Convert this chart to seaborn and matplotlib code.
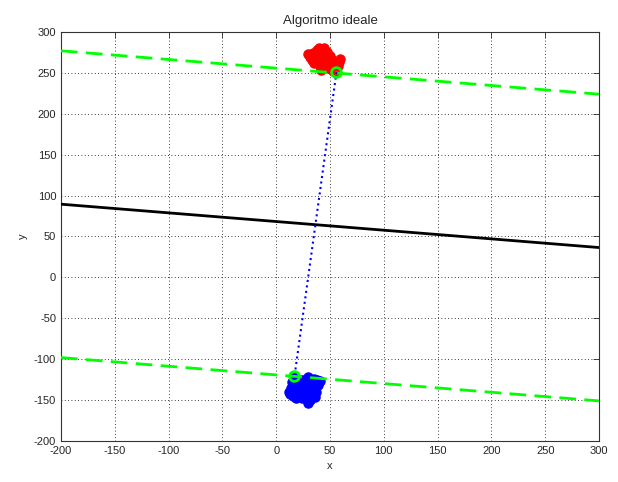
import matplotlib
matplotlib.use("Agg")
import matplotlib.pyplot as plt
import seaborn as sns
import pandas as pd

# --- data ---
red_x = [31, 34, 36, 38, 40, 42, 44, 46, 39, 41, 43, 45, 47, 49, 51, 35, 37, 33, 48, 50, 52, 54, 44, 46, 42, 38, 53, 56, 40, 36, 58, 59, 57, 30]
red_y = [270, 274, 268, 278, 281, 276, 272, 266, 262, 259, 263, 269, 275, 260, 264, 262, 273, 266, 256, 271, 266, 258, 280, 257, 254, 265, 252, 251, 277, 271, 263, 267, 259, 273]
blue_x = [12, 14, 16, 17, 19, 21, 23, 25, 27, 29, 31, 33, 35, 37, 39, 41, 15, 18, 22, 26, 28, 30, 34, 36, 20, 24, 32, 13, 38, 30]
blue_y = [-140, -135, -145, -121, -130, -138, -125, -132, -142, -128, -150, -136, -124, -140, -131, -127, -128, -147, -144, -126, -135, -153, -129, -146, -133, -148, -139, -143, -125, -122]
sv_x = [56, 17]
sv_y = [251, -121]
line_x = [-200, 300]
mid_y = [89.5, 36.5]
upper_y = [277, 224]
lower_y = [-98, -151]
x_ticks = list(range(-200, 301, 50))
y_ticks = list(range(-200, 301, 50))

sns.set_style("white")
plt.rcParams['font.family'] = ['Liberation Sans', 'DejaVu Sans']
plt.rcParams['axes.unicode_minus'] = False

fig = plt.figure(figsize=(6.18, 4.82), dpi=100)
ax = fig.add_axes([61/618, 1-441/482, (599-61)/618, (441-32)/482])

red = pd.DataFrame({"x": red_x, "y": red_y})
blue = pd.DataFrame({"x": blue_x, "y": blue_y})

sns.scatterplot(data=red, x="x", y="y", color=(1, 0, 0), s=45, edgecolor=(1, 0, 0), linewidth=0.8, ax=ax, zorder=3)
sns.scatterplot(data=blue, x="x", y="y", color=(0, 0, 1), s=45, edgecolor=(0, 0, 1), linewidth=0.8, ax=ax, zorder=3)

sns.lineplot(x=line_x, y=mid_y, color="black", linewidth=2, ax=ax, zorder=4)
sns.lineplot(x=line_x, y=upper_y, color=(0, 1, 0), linewidth=2, ax=ax, zorder=4)
sns.lineplot(x=line_x, y=lower_y, color=(0, 1, 0), linewidth=2, ax=ax, zorder=4)
for ln in ax.lines[1:]:
    ln.set_dashes([6, 3])
sns.lineplot(x=sv_x, y=sv_y, color=(0, 0, 1), linewidth=1.5, ax=ax, zorder=4, sort=False)
ax.lines[-1].set_linestyle(":")
ax.plot(sv_x, sv_y, linestyle="none", marker="o", markersize=7, markerfacecolor="none",
        markeredgecolor=(0, 1, 0), markeredgewidth=2, zorder=5)

ax.set_xlim(-200, 300)
ax.set_ylim(-200, 300)
ax.set_xticks(x_ticks)
ax.set_yticks(y_ticks)
ax.tick_params(labelsize=8, direction="in", length=4, top=True, right=True, width=0.6)
ax.grid(True, linestyle=(0, (1, 3)), color="black", linewidth=0.6)
for s in ax.spines.values():
    s.set_color("#333333")
    s.set_linewidth(0.8)
ax.set_title("Algoritmo ideale", fontsize=9.5)
ax.set_xlabel("x", fontsize=8)
ax.set_ylabel("y", fontsize=8)

fig.savefig("out.png", dpi=100)
